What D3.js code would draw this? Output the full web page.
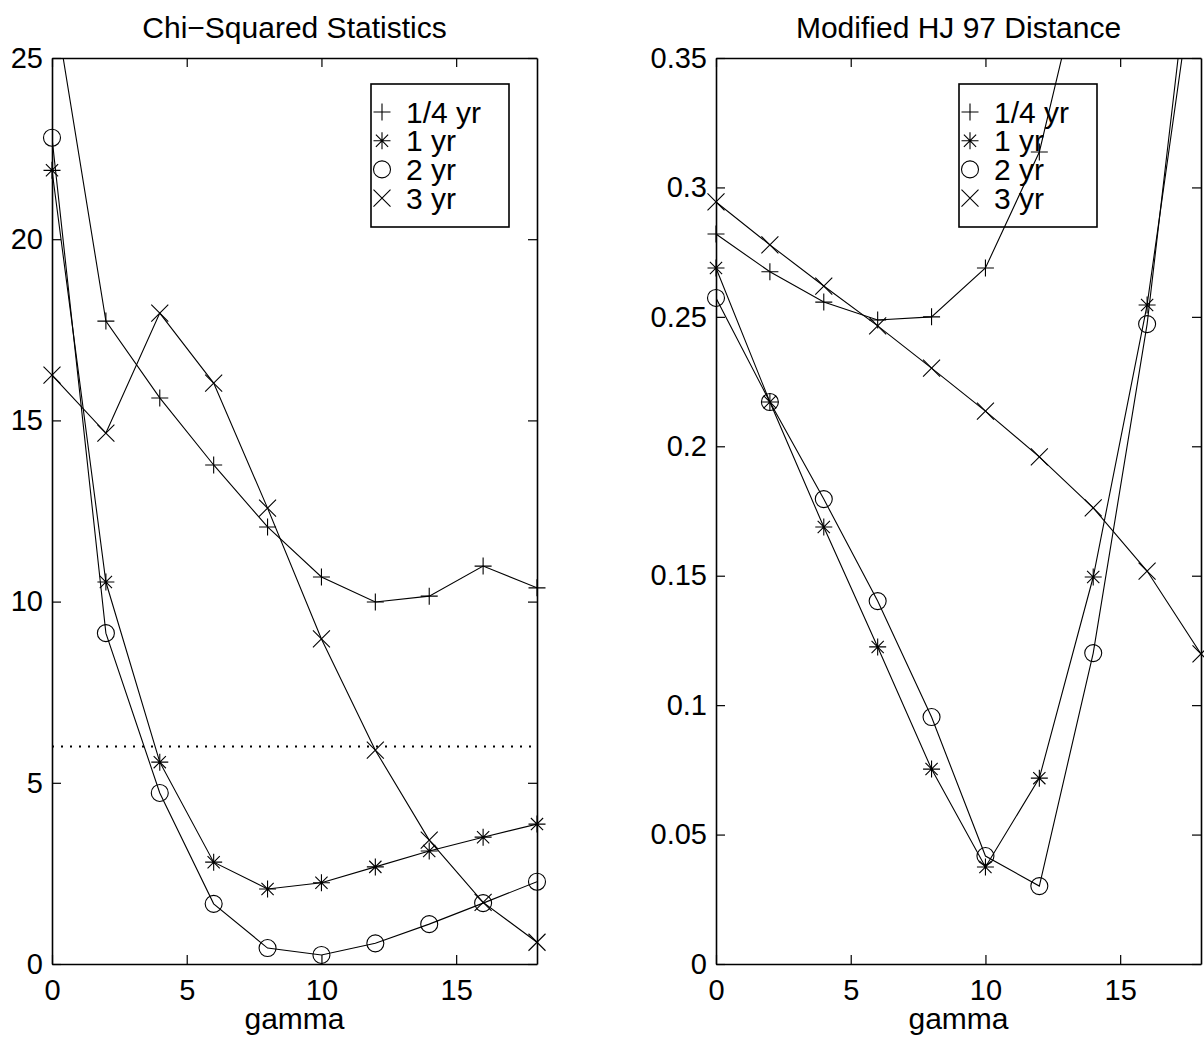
<!DOCTYPE html>
<html>
<head>
<meta charset="utf-8">
<script src="https://cdn.jsdelivr.net/npm/d3@7"></script>
<style>
  body { margin: 0; background: #fff; }
  svg { display: block; font-family: "Liberation Sans", Arial, Helvetica, sans-serif; }
</style>
</head>
<body>
<svg id="chart" width="1204" height="1042"></svg>
<script>
// gamma grid shared by both panels
const gamma = [0, 2, 4, 6, 8, 10, 12, 14, 16, 18];
const seriesNames = ['1/4 yr', '1 yr', '2 yr', '3 yr'];
const markerTypes = ['plus', 'star', 'circle', 'cross'];

// Chi-squared statistics
const chiQuarter = [26.9, 17.74, 15.62, 13.77, 12.06, 10.68, 9.99, 10.15, 10.98, 10.38];
const chiOne     = [21.9, 10.54, 5.57, 2.81, 2.07, 2.24, 2.68, 3.12, 3.5, 3.86];
const chiTwo     = [22.8, 9.13, 4.72, 1.66, 0.44, 0.25, 0.57, 1.1, 1.68, 2.27];
const chiThree   = [16.25, 14.65, 17.96, 16.03, 12.58, 8.97, 5.9, 3.42, 1.7, 0.6];
const chiCritical = 6;
const chiTicks = [0, 5, 10, 15, 20, 25];

// Modified HJ 97 distance (null = not recoverable, off the top)
const hjQuarter = [0.282, 0.2674, 0.2557, 0.2488, 0.25, 0.2689, 0.3137, 0.401, null, null];
const hjOne     = [0.2689, 0.2171, 0.1688, 0.1225, 0.0753, 0.0375, 0.0718, 0.1495, 0.2546, 0.402];
const hjTwo     = [0.2573, 0.2171, 0.1796, 0.1402, 0.0954, 0.0417, 0.0301, 0.1201, 0.2472, 0.426];
const hjThree   = [0.2944, 0.2778, 0.2619, 0.2465, 0.2302, 0.2136, 0.1959, 0.1762, 0.1518, 0.1198];
const hjTicks = [0, 0.05, 0.1, 0.15, 0.2, 0.25, 0.3, 0.35];

const xTicks = [0, 5, 10, 15];
const FONT = 29;

const svg = d3.select('#chart');

function drawMarker(sel, type) {
  const s = 8.5;
  if (type === 'circle') {
    sel.append('circle').attr('r', s).attr('fill', 'none').attr('stroke', '#000').attr('stroke-width', 1.1);
    return;
  }
  let d = '';
  if (type === 'plus' || type === 'star') d += `M${-s},0H${s}M0,${-s}V${s}`;
  if (type === 'cross' || type === 'star') {
    const c = type === 'cross' ? s : s * 0.72;
    d += `M${-c},${-c}L${c},${c}M${-c},${c}L${c},${-c}`;
  }
  sel.append('path').attr('d', d).attr('fill', 'none').attr('stroke', '#000').attr('stroke-width', 1.1);
}

function drawPanel({ left, title, yMax, yTicks, yFormat, series, legendX, refLine, id }) {
  const top = 58, bottom = 964, width = 485;
  const x = d3.scaleLinear([0, 18], [left, left + width]);
  const y = d3.scaleLinear([0, yMax], [bottom, top]);
  const g = svg.append('g');

  g.append('clipPath').attr('id', id)
    .append('rect').attr('x', left).attr('y', top).attr('width', width).attr('height', bottom - top);

  // axes, MATLAB style box with inward ticks
  const styleAxis = sel => {
    sel.selectAll('.domain').attr('stroke-width', 1.6);
    sel.selectAll('.tick line').attr('stroke-width', 1.2);
    sel.selectAll('text').attr('font-size', FONT).attr('font-family', 'Liberation Sans, Arial, sans-serif').attr('fill', '#000');
  };
  g.append('g').attr('transform', `translate(0,${bottom})`)
    .call(d3.axisBottom(x).tickValues(xTicks).tickSizeInner(-9).tickSizeOuter(0).tickPadding(15))
    .call(styleAxis);
  g.append('g').attr('transform', `translate(0,${top})`)
    .call(d3.axisTop(x).tickValues(xTicks).tickSizeInner(-9).tickSizeOuter(0).tickFormat(''))
    .call(styleAxis);
  g.append('g').attr('transform', `translate(${left},0)`)
    .call(d3.axisLeft(y).tickValues(yTicks).tickSizeInner(-9).tickSizeOuter(0).tickPadding(9).tickFormat(yFormat))
    .call(styleAxis);
  g.append('g').attr('transform', `translate(${left + width},0)`)
    .call(d3.axisRight(y).tickValues(yTicks).tickSizeInner(-9).tickSizeOuter(0).tickFormat(''))
    .call(styleAxis);

  g.append('text').attr('x', left + width / 2).attr('y', 38)
    .attr('text-anchor', 'middle').attr('font-size', 30).text(title);
  g.append('text').attr('x', left + width / 2).attr('y', 1029)
    .attr('text-anchor', 'middle').attr('font-size', 30).text('gamma');

  if (refLine != null) {
    g.append('line')
      .attr('x1', x(0)).attr('x2', x(18)).attr('y1', y(refLine)).attr('y2', y(refLine))
      .attr('stroke', '#000').attr('stroke-width', 2).attr('stroke-dasharray', '2,7');
  }

  const line = d3.line()
    .defined(d => d[1] != null)
    .x(d => x(d[0])).y(d => y(d[1]));

  series.forEach((vals, i) => {
    const pts = gamma.map((gv, j) => [gv, vals[j]]);
    g.append('path').datum(pts)
      .attr('clip-path', `url(#${id})`)
      .attr('d', line).attr('fill', 'none').attr('stroke', '#000').attr('stroke-width', 1.1);
    pts.filter(p => p[1] != null && p[1] <= yMax).forEach(p => {
      g.append('g').attr('transform', `translate(${x(p[0])},${y(p[1])})`)
        .call(drawMarker, markerTypes[i]);
    });
  });

  // legend
  const lg = g.append('g').attr('transform', `translate(${legendX},84)`);
  lg.append('rect').attr('width', 138).attr('height', 143)
    .attr('fill', 'none').attr('stroke', '#000').attr('stroke-width', 1.6);
  seriesNames.forEach((name, i) => {
    const cy = 28 + i * 28.7;
    lg.append('g').attr('transform', `translate(11,${cy})`).call(drawMarker, markerTypes[i]);
    lg.append('text').attr('x', 35).attr('y', cy + 10.5).attr('font-size', 30).text(name);
  });
}

drawPanel({
  id: 'clipChi', left: 52, title: 'Chi\u2212Squared Statistics', yMax: 25, yTicks: chiTicks,
  yFormat: d3.format('d'), series: [chiQuarter, chiOne, chiTwo, chiThree],
  legendX: 371, refLine: chiCritical
});
drawPanel({
  id: 'clipHj', left: 716, title: 'Modified HJ 97 Distance', yMax: 0.35, yTicks: hjTicks,
  yFormat: d => String(+d.toFixed(2)), series: [hjQuarter, hjOne, hjTwo, hjThree],
  legendX: 959, refLine: null
});
</script>
</body>
</html>
